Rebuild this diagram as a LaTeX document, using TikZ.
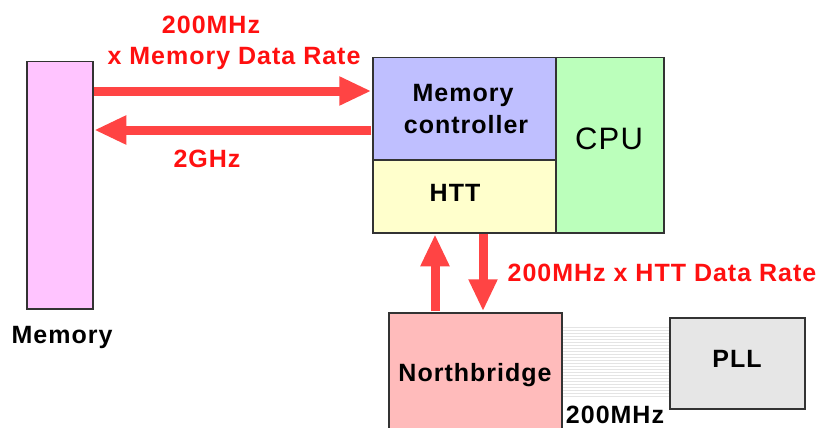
\documentclass[tikz,border=0pt]{standalone}
\usepackage{fontspec}
\setmainfont[LetterSpace=4]{Liberation Sans}
\usetikzlibrary{arrows.meta,calc}
\definecolor{memc}{HTML}{FFC4FF}
\definecolor{mcc}{HTML}{BFBFFF}
\definecolor{httc}{HTML}{FFFFCC}
\definecolor{cpuc}{HTML}{BBFFBB}
\definecolor{nbc}{HTML}{FFBBBB}
\definecolor{pllc}{HTML}{E6E6E6}
\definecolor{arrc}{HTML}{FF4444}
\definecolor{redtxt}{HTML}{FF1010}
\definecolor{edge}{HTML}{333333}
\definecolor{stripe}{HTML}{E4E4E4}
\begin{document}
\begin{tikzpicture}[x=1pt,y=-1pt,
  box/.style={draw=edge,line width=1.5pt,inner sep=0pt,anchor=north west},
  lbl/.style={anchor=base,inner sep=0pt,font=\fontsize{25}{32}\selectfont\bfseries},
  rlbl/.style={lbl,text=redtxt},
  bigarrow/.style={draw=arrc,line width=9pt,-{Triangle[length=32pt,width=27pt]}}]
\useasboundingbox (0,0) rectangle (819,428);
\clip (0,0) rectangle (819,428);
% boxes
\node[box,fill=memc,minimum width=66pt,minimum height=247pt] (mem) at (26,61) {};
\node[box,fill=mcc,minimum width=183pt,minimum height=102pt] (mc) at (372,57) {};
\node[box,fill=httc,minimum width=183pt,minimum height=73pt] (htt) at (372,159) {};
\node[box,fill=cpuc,minimum width=108pt,minimum height=175pt] (cpu) at (555,57) {};
\node[box,fill=nbc,minimum width=173pt,minimum height=140pt] (nb) at (388,312) {};
\node[box,fill=pllc,minimum width=135pt,minimum height=91pt] (pll) at (669,317) {};
% stripes between northbridge and PLL
\foreach \i in {0,...,23}
  \draw[stripe,line width=1pt] ($(nb.north east)+(0.75,{15+3*\i})$) coordinate (s) -- (s -| pll.west);
% labels
\node[lbl] (memlbl) at (62,343) {Memory};
\node[lbl] (mclbl1) at (463,101) {Memory};
\node[lbl] (mclbl2) at (466,133) {controller};
\node[lbl] (httlbl) at (455,201) {HTT};
\node[anchor=base,inner sep=0pt,font=\fontsize{31}{36}\selectfont] (cpulbl) at (609,149) {CPU};
\node[lbl] (nblbl) at (475,381) {Northbridge};
\node[lbl] (plllbl) at (737,367) {PLL};
\node[lbl] (clklbl) at (615,423) {200MHz};
\node[rlbl] (r1) at (211,34) {200MHz};
\node[rlbl] (r2) at (234,65) {x Memory Data Rate};
\node[rlbl] (r3) at (207,167) {2GHz};
\node[rlbl] (r4) at (662,281) {200MHz x HTT Data Rate};
% arrows
\draw[bigarrow] ($(mem.north east)+(0.75,30)$) -- ($(mc.north west)+(-0.75,34)$);
\draw[bigarrow] ($(mc.north west)+(-0.75,73)$) -- ($(mem.north east)+(0.75,69)$);
\draw[bigarrow] ($(nb.north west)+(47,-0.75)$) -- ($(htt.south west)+(63,0.75)$);
\draw[bigarrow] ($(htt.south west)+(111,0.75)$) -- ($(nb.north west)+(95,-0.75)$);
\end{tikzpicture}
\end{document}
